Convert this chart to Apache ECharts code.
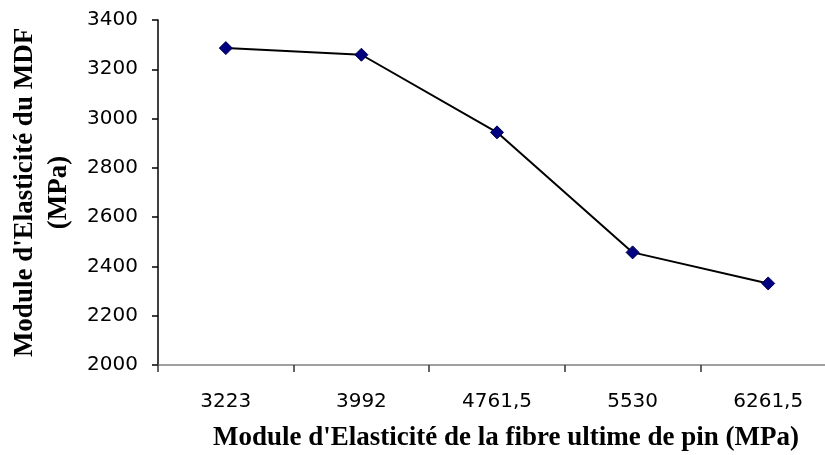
<!DOCTYPE html>
<html>
<head>
<meta charset="utf-8">
<script src="https://cdn.jsdelivr.net/npm/echarts@6/dist/echarts.min.js"></script>
<style>
  html, body { margin: 0; padding: 0; background: #fff; }
  #chart { width: 825px; height: 455px; }
</style>
</head>
<body>
<div id="chart"></div>
<script>
// Fibre modulus (MPa) of the pine fibre, used as categories
const fibreModulus = ['3223', '3992', '4761,5', '5530', '6261,5'];
// MDF modulus of elasticity (MPa) for each fibre modulus
const mdfModulus = [3286, 3259, 2944, 2457, 2331];
// Value axis range
const yMin = 2000;
const yMax = 3400;
const yStep = 200;

const chart = echarts.init(document.getElementById('chart'), null, { renderer: 'canvas' });

chart.setOption({
  animation: false,
  backgroundColor: '#ffffff',
  grid: {
    left: 158, top: 20, width: 678, height: 345,
    containLabel: false,
    outerBoundsMode: 'none'
  },
  xAxis: {
    type: 'category',
    data: fibreModulus,
    boundaryGap: true,
    axisLine: { lineStyle: { color: '#808080', width: 1.5 } },
    axisTick: { show: true, length: 7, alignWithLabel: false, lineStyle: { color: '#333', width: 1.5 } },
    axisLabel: { margin: 27, color: '#000', fontFamily: 'DejaVu Sans', fontSize: 20 },
    splitLine: { show: false },
    name: "Module d'Elasticité de la fibre ultime de pin (MPa)",
    nameLocation: 'middle',
    nameGap: 60,
    nameTextStyle: {
      color: '#000', fontFamily: 'Liberation Serif', fontWeight: 'bold', fontSize: 27,
      padding: [0, 0, 0, 18]
    }
  },
  yAxis: {
    type: 'value',
    min: yMin,
    max: yMax,
    interval: yStep,
    axisLine: { show: true, lineStyle: { color: '#000', width: 1.5 } },
    axisTick: { show: true, length: 6, lineStyle: { color: '#000', width: 1.5 } },
    axisLabel: {
      margin: 20, color: '#000', fontFamily: 'DejaVu Sans', fontSize: 20,
      formatter: (v) => String(v)
    },
    splitLine: { show: false },
    name: "Module d'Elasticité du MDF\n(MPa)",
    nameLocation: 'middle',
    nameRotate: 90,
    nameGap: 71,
    nameTextStyle: { color: '#000', fontFamily: 'Liberation Serif', fontWeight: 'bold', fontSize: 27, lineHeight: 34, align: 'center' }
  },
  series: [{
    type: 'line',
    data: mdfModulus,
    symbol: 'diamond',
    symbolSize: [13, 13],
    lineStyle: { color: '#000', width: 2 },
    itemStyle: { color: '#000080', borderColor: '#00004d', borderWidth: 1 }
  }]
});
</script>
</body>
</html>
